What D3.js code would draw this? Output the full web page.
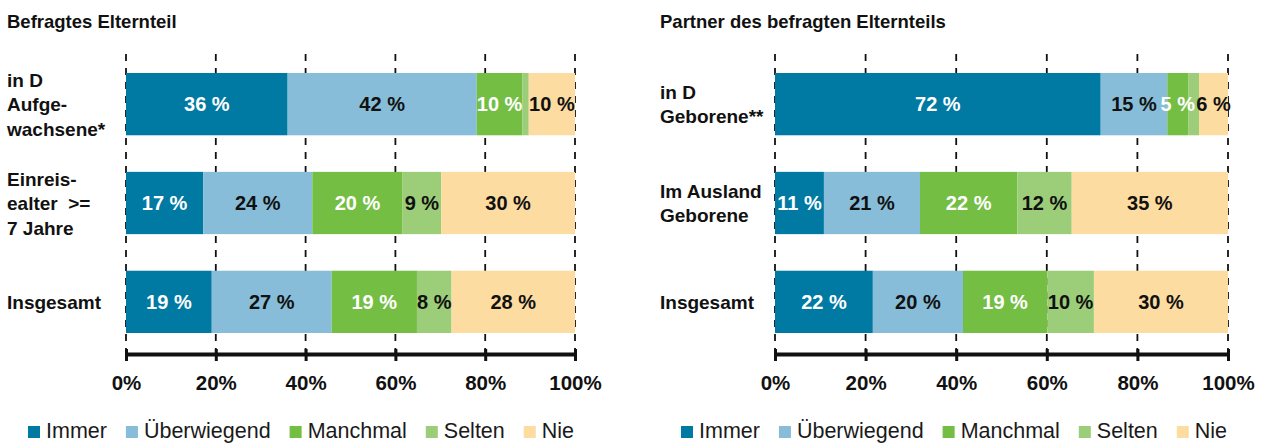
<!DOCTYPE html>
<html>
<head>
<meta charset="utf-8">
<script src="https://cdn.jsdelivr.net/npm/d3@7"></script>
<style>
    body { margin: 0; background: #fff; }
    svg { display: block; font-family: "Liberation Sans", Arial, sans-serif; }
</style>
</head>
<body>
<div id="chart"></div>
<script>
// answer categories, in stacking order
var series = ["Immer", "Überwiegend", "Manchmal", "Selten", "Nie"];
var seriesColors = ["#0079a3", "#87bdd8", "#74be44", "#9ccd78", "#fddca1"];
var labelColors = ["#fff", "#111", "#fff", "#111", "#111"];

var leftTitle = "Befragtes Elternteil";
var leftCategories = [["in D", "Aufge-", "wachsene*"], ["Einreis-", "ealter  >=", "7 Jahre"], ["Insgesamt"]];
var leftValues = [
    [36.0, 42.1, 10.2, 1.4, 10.3],
    [17.2, 24.3, 20.1, 8.6, 29.8],
    [19.1, 26.7, 19.0, 7.7, 27.5]
];

var rightTitle = "Partner des befragten Elternteils";
var rightCategories = [["in D", "Geborene**"], ["Im Ausland", "Geborene"], ["Insgesamt"]];
var rightValues = [
    [71.9, 14.7, 4.6, 2.4, 6.4],
    [10.8, 21.2, 21.5, 12.0, 34.5],
    [21.6, 19.9, 18.6, 10.3, 29.6]
];

var tickValues = [0, 20, 40, 60, 80, 100];

var svg = d3.select("#chart").append("svg")
    .attr("width", 1261)
    .attr("height", 444);

var panels = [
    {title: leftTitle, categories: leftCategories, values: leftValues, x0: 126, x1: 575, textX: 7, legendX: 28},
    {title: rightTitle, categories: rightCategories, values: rightValues, x0: 775, x1: 1228, textX: 660, legendX: 681}
];

var axisY = 354;

panels.forEach(function(p) {
    var g = svg.append("g");

    var x = d3.scaleLinear()
        .domain([0, 100])
        .range([p.x0, p.x1]);

    var y = d3.scaleBand()
        .domain(d3.range(p.values.length))
        .range([73, 333])
        .paddingInner(0.37)
        .paddingOuter(0);

    // title
    g.append("text")
        .attr("x", p.textX)
        .attr("y", 28)
        .text(p.title)
        .style("font-weight", "bold")
        .style("font-size", "18.5px")
        .style("fill", "#111");

    // dashed grid lines behind the bars
    g.selectAll("line.grid")
        .data(tickValues)
        .enter().append("line")
        .attr("class", "grid")
        .attr("x1", function(d) { return x(d); })
        .attr("x2", function(d) { return x(d); })
        .attr("y1", 54)
        .attr("y2", axisY)
        .attr("stroke", "#111")
        .attr("stroke-width", 1.8)
        .attr("stroke-dasharray", "7,7");

    // stacked segments
    p.values.forEach(function(row, i) {
        var ends = d3.cumsum(row);
        var rowG = g.append("g");

        row.forEach(function(v, j) {
            var start = ends[j] - v;
            rowG.append("rect")
                .attr("x", x(start))
                .attr("y", y(i))
                .attr("width", x(ends[j]) - x(start))
                .attr("height", y.bandwidth())
                .attr("fill", seriesColors[j]);
        });

        row.forEach(function(v, j) {
            if (v < 3) return; // too narrow to label
            var start = ends[j] - v;
            rowG.append("text")
                .attr("x", (x(start) + x(ends[j])) / 2)
                .attr("y", y(i) + y.bandwidth() / 2)
                .attr("dy", "0.36em")
                .style("text-anchor", "middle")
                .style("font-weight", "bold")
                .style("font-size", "20px")
                .style("fill", labelColors[j])
                .text(Math.round(v) + " %");
        });

        // category label, one or more lines
        var lines = p.categories[i];
        var cy = y(i) + y.bandwidth() / 2;
        lines.forEach(function(line, k) {
            g.append("text")
                .attr("x", p.textX)
                .attr("y", cy + (k - (lines.length - 1) / 2) * 24.5 + 7)
                .style("font-weight", "bold")
                .style("font-size", "19px")
                .style("fill", "#111")
                .style("white-space", "pre")
                .text(line);
        });
    });

    // x axis
    var axis = g.append("g")
        .attr("transform", "translate(0," + axisY + ")")
        .call(d3.axisBottom(x)
            .tickValues(tickValues)
            .tickSizeOuter(0)
            .tickFormat(function(d) { return d + "%"; }));

    axis.select(".domain")
        .attr("stroke", "#111")
        .attr("stroke-width", 4);
    axis.selectAll(".tick line")
        .attr("y1", -5)
        .attr("y2", 7)
        .attr("stroke", "#111")
        .attr("stroke-width", 3);
    axis.selectAll(".tick text")
        .attr("y", 36)
        .attr("dy", 0)
        .style("font-family", "Liberation Sans, Arial, sans-serif")
        .style("font-weight", "bold")
        .style("font-size", "20.5px")
        .style("fill", "#111");

    // legend
    var legend = g.append("g").attr("transform", "translate(" + p.legendX + ",0)");
    var lx = 0;
    series.forEach(function(s, j) {
        legend.append("rect")
            .attr("x", lx)
            .attr("y", 426)
            .attr("width", 12)
            .attr("height", 12)
            .attr("fill", seriesColors[j]);
        var t = legend.append("text")
            .attr("x", lx + 18)
            .attr("y", 438)
            .style("font-size", "21.5px")
            .style("fill", "#1a1a1a")
            .text(s);
        lx += 18 + t.node().getComputedTextLength() + 19;
    });
});
</script>
</body>
</html>
